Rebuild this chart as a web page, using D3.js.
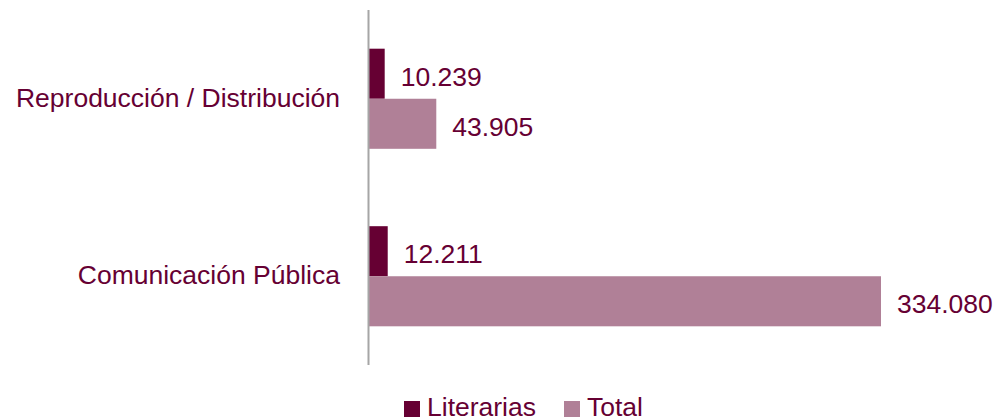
<!DOCTYPE html>
<html>
<head>
<meta charset="utf-8">
<script src="https://cdn.jsdelivr.net/npm/d3@7"></script>
<style>
  body { margin: 0; background: #fff; }
  svg { display: block; font-family: "Liberation Sans", Arial, sans-serif; }
</style>
</head>
<body>
<svg id="chart" width="996" height="419"></svg>
<script>
const categories = ["Reproducción / Distribución", "Comunicación Pública"];
const seriesNames = ["Literarias", "Total"];
const literarias = [10239, 12211];
const total = [43905, 334080];

const colors = { "Literarias": "#660033", "Total": "#B08097" };
const textColor = "#660033";
const fontSize = "26.5px";

const svg = d3.select("#chart");

// layout
const plotLeft = 369, plotRight = 881, plotTop = 10, plotBottom = 365;

const fmt = v => d3.format(",")(v).replace(/,/g, ".");

const y0 = d3.scaleBand()
    .domain(categories)
    .range([plotTop, plotBottom])
    .paddingInner(0.436)
    .paddingOuter(0.218);

const y1 = d3.scaleBand()
    .domain(seriesNames)
    .range([0, y0.bandwidth()]);

const x = d3.scaleLinear()
    .domain([0, d3.max(total)])
    .range([plotLeft, plotRight]);

const rows = categories.map((c, i) => ({
    category: c,
    values: [
        { series: "Literarias", value: literarias[i] },
        { series: "Total", value: total[i] }
    ]
}));

const groups = svg.selectAll("g.group")
    .data(rows)
    .join("g")
    .attr("class", "group")
    .attr("transform", d => `translate(0,${y0(d.category)})`);

groups.selectAll("rect")
    .data(d => d.values)
    .join("rect")
    .attr("x", x(0))
    .attr("y", d => y1(d.series))
    .attr("width", d => x(d.value) - x(0))
    .attr("height", y1.bandwidth())
    .attr("fill", d => colors[d.series]);

groups.selectAll("text.value")
    .data(d => d.values)
    .join("text")
    .attr("class", "value")
    .attr("x", d => x(d.value) + 16)
    .attr("y", d => y1(d.series) + y1.bandwidth() / 2 + 12)
    .attr("font-size", fontSize)
    .attr("fill", textColor)
    .text(d => fmt(d.value));

// category labels
svg.selectAll("text.cat")
    .data(categories)
    .join("text")
    .attr("class", "cat")
    .attr("x", 340)
    .attr("y", d => y0(d) + y0.bandwidth() / 2 + 8)
    .attr("text-anchor", "end")
    .attr("font-size", fontSize)
    .attr("fill", textColor)
    .text(d => d);

// axis line
svg.append("line")
    .attr("x1", plotLeft - 0.5).attr("x2", plotLeft - 0.5)
    .attr("y1", plotTop).attr("y2", plotBottom)
    .attr("stroke", "#a6a6a6")
    .attr("stroke-width", 2);

// legend
const legendItems = [
    { name: "Literarias", x: 404 },
    { name: "Total", x: 564 }
];
const legend = svg.selectAll("g.legend")
    .data(legendItems)
    .join("g")
    .attr("class", "legend")
    .attr("transform", d => `translate(${d.x},401)`);

legend.append("rect")
    .attr("width", 16).attr("height", 16)
    .attr("fill", d => colors[d.name]);

legend.append("text")
    .attr("x", 23)
    .attr("y", 15)
    .attr("font-size", fontSize)
    .attr("fill", textColor)
    .text(d => d.name);
</script>
</body>
</html>
